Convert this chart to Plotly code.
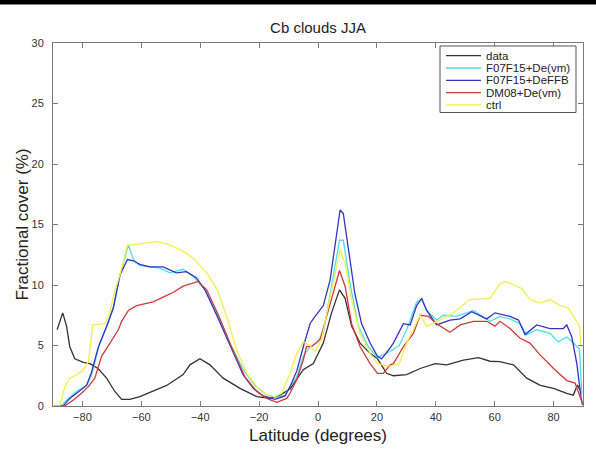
import plotly.graph_objects as go

# ---------------- data ----------------
data_lat = [-88.6, -86.7, -85.4, -84.3, -82.6, -79.7, -77.5, -74.7, -71.8, -69.0, -66.7, -63.9, -60.5,
            -57.1, -51.4, -45.8, -43.5, -40.1, -36.7, -32.2, -26.5, -20.8, -16.3, -12.9, -9.5, -5.0,
            -1.6, 1.8, 4.6, 7.3, 9.2, 11.4, 14.3, 17.7, 20.2, 23.3, 25.6, 30.1, 34.7, 39.8, 43.7, 49.4,
            54.5, 58.4, 61.8, 66.4, 70.9, 75.5, 80.0, 84.5, 86.7, 88.1, 89.0]
data_val = [6.3, 7.7, 6.6, 4.9, 3.9, 3.6, 3.5, 3.1, 2.3, 1.2, 0.55, 0.55, 0.77,
            1.1, 1.7, 2.6, 3.4, 3.9, 3.4, 2.3, 1.46, 0.77, 0.63, 0.9, 1.4, 3.0,
            3.5, 5.2, 7.7, 9.6, 8.9, 6.6, 5.2, 4.35, 3.9, 2.7, 2.5, 2.6, 3.1, 3.5, 3.4, 3.8,
            4.0, 3.7, 3.66, 3.4, 2.3, 1.7, 1.46, 1.05, 0.9, 1.74, 1.3]

cyan_lat = [-89.5, -87.1, -85.4, -82.0, -78.6, -76.9, -74.1, -71.3, -69.5, -67.3, -64.4, -62.7, -60.5,
            -57.1, -53.7, -50.3, -45.8, -42.4, -38.4, -34.4, -29.9, -25.4, -21.4, -17.4, -14.0, -11.2,
            -9.5, -7.2, -5.0, -2.7, -0.5, 1.8, 4.6, 7.3, 8.6, 10.9, 13.7, 17.1, 20.2, 24.5, 27.6, 30.1,
            33.5, 35.2, 36.9, 40.3, 42.6, 47.1, 52.8, 58.4, 61.8, 65.2, 68.6, 70.9, 74.3, 78.8, 81.6,
            84.5, 86.7, 88.8, 89.6]
cyan_val = [0, 0, 0.5, 1.2, 1.7, 2.56, 5.2, 6.8, 8.2, 10.7, 13.3, 12.1, 11.6,
            11.5, 11.4, 11.0, 11.3, 10.7, 9.6, 7.7, 5.2, 3.0, 1.7, 0.9, 0.7, 0.9,
            1.6, 2.4, 4.1, 4.9, 5.2, 6.0, 9.9, 13.7, 13.7, 10.1, 6.6, 4.9, 4.0, 4.5, 5.0, 6.3,
            8.6, 8.8, 7.9, 7.1, 7.5, 7.4, 7.9, 7.0, 7.4, 7.2, 6.8, 5.9, 6.3, 6.0, 5.3,
            5.7, 5.2, 4.7, 1.0]

blue_lat = [-89.5, -86.5, -84.3, -80.9, -78.6, -76.9, -74.7, -71.8, -69.5, -67.3, -64.7, -62.7, -60.5,
            -57.1, -52.6, -48.1, -44.7, -41.3, -38.4, -34.4, -29.9, -25.4, -22.0, -18.6, -14.6, -11.2,
            -9.5, -7.2, -5.0, -2.7, -1.6, 1.8, 4.1, 6.3, 7.5, 8.6, 10.3, 12.5, 14.8, 17.7, 20.2, 21.6,
            24.5, 25.6, 29.0, 31.3, 33.5, 35.2, 36.9, 40.3, 44.8, 48.3, 52.2, 57.3, 60.1, 62.9, 65.2,
            68.1, 70.3, 74.3, 78.8, 83.3, 84.5, 86.2, 87.9, 89.3, 89.8]
blue_val = [0, 0, 0.63, 1.3, 1.7, 2.8, 4.8, 6.6, 8.1, 10.8, 12.1, 12.0, 11.7,
            11.5, 11.5, 11.0, 11.1, 10.6, 9.6, 7.5, 5.0, 2.56, 1.46, 0.83, 0.55, 0.83,
            1.6, 2.9, 4.9, 6.8, 7.2, 8.3, 10.4, 14.0, 16.2, 15.9, 13.2, 9.3, 6.8, 5.2, 4.1, 3.9,
            4.8, 5.2, 6.8, 6.7, 8.3, 8.9, 7.9, 6.7, 7.1, 7.2, 7.8, 7.2, 7.7, 7.5, 7.4,
            7.1, 5.9, 6.7, 6.4, 6.4, 6.7, 5.7, 3.5, 0.77, 0.1]

red_lat = [-89.5, -86.0, -83.1, -80.3, -78.0, -75.8, -73.5, -70.6, -67.8, -66.7, -64.4, -61.6, -58.2,
           -56.0, -52.6, -49.1, -45.8, -42.4, -40.7, -37.8, -33.8, -29.4, -24.8, -20.8, -17.4, -14.0,
           -10.6, -9.5, -7.2, -5.0, -3.9, -2.2, 0.7, 3.5, 7.3, 9.2, 11.4, 14.3, 17.7, 20.2, 22.2,
           24.5, 25.6, 29.0, 32.4, 34.7, 37.5, 40.3, 44.8, 48.3, 52.8, 57.3, 60.1, 61.8, 65.2, 68.6,
           72.0, 75.5, 80.0, 84.5, 87.3, 89.0, 89.7]
red_val = [0, 0, 0.5, 1.05, 1.6, 2.3, 4.1, 5.2, 6.3, 7.0, 7.9, 8.3, 8.5,
           8.6, 9.0, 9.4, 9.9, 10.2, 10.3, 9.6, 7.5, 4.9, 2.4, 1.2, 0.63, 0.3,
           0.63, 1.05, 2.2, 3.8, 4.9, 4.9, 5.5, 7.9, 11.2, 9.9, 6.8, 4.9, 3.5, 2.7, 2.7,
           3.4, 3.5, 4.9, 6.0, 7.5, 7.4, 6.8, 6.1, 6.7, 7.0, 7.0, 6.6, 7.0, 6.4, 5.6,
           5.2, 4.2, 3.1, 2.1, 1.9, 0.77, 0.3]

ctrl_lat = [-89.5, -87.7, -86.0, -84.3, -82.0, -79.7, -78.0, -76.5, -72.3, -70.6, -68.9, -67.3, -64.7,
            -63.9, -60.5, -54.8, -51.4, -45.8, -42.4, -37.8, -34.4, -31.0, -27.6, -24.2, -20.8, -17.4,
            -14.6, -12.3, -9.5, -7.2, -5.0, -2.7, -1.0, 1.2, 4.1, 7.5, 9.2, 11.4, 14.3, 17.7, 20.2,
            24.5, 27.6, 30.1, 34.7, 36.9, 41.5, 46.0, 51.6, 58.4, 61.8, 63.5, 66.4, 69.2, 72.0, 75.5,
            78.8, 82.2, 85.0, 87.3, 88.8, 89.3]
ctrl_val = [0, 0, 1.6, 2.3, 2.56, 3.0, 3.66, 6.7, 6.8, 7.9, 9.6, 10.8, 13.3,
            13.3, 13.4, 13.6, 13.4, 12.8, 12.2, 11.0, 9.7, 7.4, 4.6, 2.7, 1.6, 0.9,
            0.77, 1.05, 2.7, 4.35, 5.3, 5.0, 4.5, 5.5, 9.0, 12.9, 11.8, 8.8, 6.0, 4.35, 3.5,
            3.3, 3.5, 5.2, 7.5, 6.6, 7.1, 7.7, 8.8, 8.9, 10.1, 10.3, 10.0, 9.7, 8.8, 8.5,
            8.8, 8.3, 8.1, 7.2, 6.6, 4.9]

series_names = ["data", "F07F15+De(vm)", "F07F15+DeFFB", "DM08+De(vm)", "ctrl"]
series_lats = [data_lat, cyan_lat, blue_lat, red_lat, ctrl_lat]
series_vals = [data_val, cyan_val, blue_val, red_val, ctrl_val]
series_colors = ["#333333", "#4fdfe6", "#3434c4", "#d23a3a", "#f2f04a"]

x_ticks = [-80, -60, -40, -20, 0, 20, 40, 60, 80]
y_ticks = [0, 5, 10, 15, 20, 25, 30]

# ---------------- layout geometry ----------------
W, H = 596, 457
ML, MR, MT, MB = 53, 13, 43, 51
PW, PH = W - ML - MR, H - MT - MB
FONT = "Liberation Sans, Arial, sans-serif"


def px_x(p):
    """pixel x -> paper x"""
    return (p - ML) / PW


def px_y(p):
    """pixel y (from top) -> paper y"""
    return 1 - (p - MT) / PH


fig = go.Figure()
for name, lx, vy, col in zip(series_names, series_lats, series_vals, series_colors):
    fig.add_trace(go.Scatter(x=lx, y=vy, mode="lines", name=name, showlegend=False,
                             line=dict(color=col, width=1.3)))

axis_common = dict(showline=True, linecolor="#7a7a7a", linewidth=1, mirror="ticks",
                   ticks="inside", ticklen=5, tickcolor="#7a7a7a", showgrid=False,
                   zeroline=False, tickfont=dict(family=FONT, size=11, color="#333333"))

# legend box drawn as shapes + annotations (MATLAB-style compact legend)
LEG_L, LEG_R, LEG_T, LEG_B = 440, 576, 46, 112.5
ROW0, ROWSTEP = 55.7, 12.3
SAMPLE_X0, SAMPLE_X1, TEXT_X = 446, 481, 484

shapes = [dict(type="rect", xref="paper", yref="paper",
               x0=px_x(LEG_L), x1=px_x(LEG_R), y0=px_y(LEG_B), y1=px_y(LEG_T),
               fillcolor="white", line=dict(color="#555555", width=1), layer="above")]
annotations = []
for i, (name, col) in enumerate(zip(series_names, series_colors)):
    yy = ROW0 + i * ROWSTEP
    shapes.append(dict(type="line", xref="paper", yref="paper",
                       x0=px_x(SAMPLE_X0), x1=px_x(SAMPLE_X1), y0=px_y(yy), y1=px_y(yy),
                       line=dict(color=col, width=1.3), layer="above"))
    annotations.append(dict(text=name, x=px_x(TEXT_X), y=px_y(yy), xref="paper", yref="paper",
                            xanchor="left", yanchor="middle", showarrow=False,
                            font=dict(family=FONT, size=11.5, color="#222222")))

# top black page rule
shapes.append(dict(type="rect", xref="paper", yref="paper",
                   x0=px_x(0), x1=px_x(W), y0=px_y(4.5), y1=px_y(0),
                   fillcolor="black", line=dict(width=0), layer="above"))

annotations += [
    dict(text="Latitude (degrees)", x=0.5, xref="paper", y=px_y(435),
         yref="paper", xanchor="center", yanchor="middle", showarrow=False,
         font=dict(family=FONT, size=17, color="#222222")),
    dict(text="Fractional cover (%)", x=px_x(22), xref="paper", y=0.5,
         yref="paper", xanchor="center", yanchor="middle", showarrow=False, textangle=-90,
         font=dict(family=FONT, size=17, color="#222222")),
]

fig.update_layout(
    width=W, height=H,
    margin=dict(l=ML, r=MR, t=MT, b=MB),
    paper_bgcolor="white", plot_bgcolor="white",
    title=dict(text="Cb clouds JJA", x=(ML + PW / 2) / W, xanchor="center",
               y=1 - 28 / H, yanchor="middle",
               font=dict(family=FONT, size=15, color="#222222")),
    xaxis=dict(range=[-90, 90], tickvals=x_ticks, ticklabelstandoff=1, **axis_common),
    yaxis=dict(range=[0, 30], tickvals=y_ticks, ticklabelstandoff=6, **axis_common),
    showlegend=False,
    annotations=annotations,
    shapes=shapes,
)

fig.write_html("out.html")
